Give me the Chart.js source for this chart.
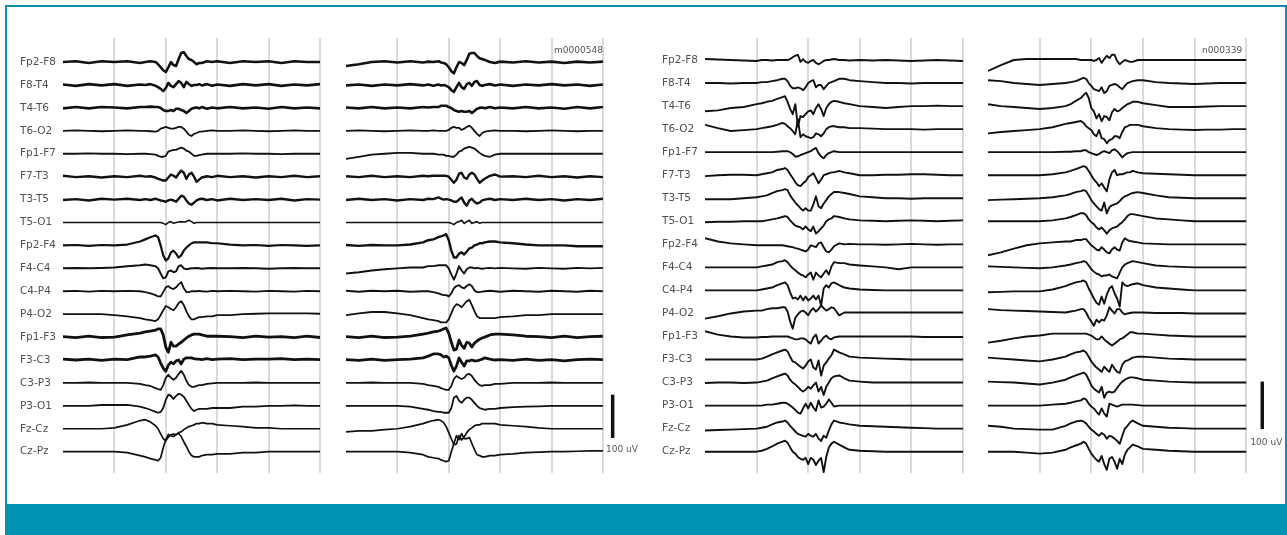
<!DOCTYPE html>
<html>
<head>
<meta charset="utf-8">
<title>EEG montage</title>
<script src="https://cdn.jsdelivr.net/npm/chart.js@4.4.1/dist/chart.umd.min.js"></script>
<style>
  body { margin: 0; width: 1287px; height: 535px; position: relative; overflow: hidden; background: #fff; }
  #frame { position: absolute; left: 5px; top: 5px; width: 1282px; height: 530px; box-sizing: border-box; border: 2px solid #0a91b2; }
  #band { position: absolute; left: 5px; top: 504px; width: 1282px; height: 31px; background: #0092b3; }
  canvas { position: absolute; top: 30px; }
</style>
</head>
<body>
<div id="frame"></div>
<div id="band"></div>
<canvas id="p1" width="307" height="453" style="left:18px"></canvas>
<canvas id="p2" width="298" height="453" style="left:346px"></canvas>
<canvas id="p3" width="308" height="453" style="left:660px"></canvas>
<canvas id="p4" width="297" height="453" style="left:988px"></canvas>
<script>
// bipolar montage, top to bottom
const CHANNELS = ['Fp2-F8', 'F8-T4', 'T4-T6', 'T6-O2', 'Fp1-F7', 'F7-T3', 'T3-T5', 'T5-O1', 'Fp2-F4',
  'F4-C4', 'C4-P4', 'P4-O2', 'Fp1-F3', 'F3-C3', 'C3-P3', 'P3-O1', 'Fz-Cz', 'Cz-Pz'];
const GRID_SECONDS = [1, 2, 3, 4, 5];
const SCALE_UV = 100;

// sample times (s) - denser around the discharge
const TIME_A = [0, 0.25, 0.5, 0.75, 1, 1.25, 1.5, 1.6, 1.7, 1.8, 1.85, 1.9, 1.95, 2, 2.05, 2.1, 2.15, 2.2,
  2.25, 2.3, 2.35, 2.4, 2.45, 2.5, 2.55, 2.6, 2.65, 2.7, 2.8, 2.9, 3, 3.25, 3.5, 3.75, 4, 4.25, 4.5, 4.75, 5];
const TIME_B = [0, 0.25, 0.5, 0.75, 1, 1.1, 1.2, 1.3, 1.4, 1.5, 1.55, 1.6, 1.65, 1.7, 1.75, 1.8, 1.85, 1.9,
  1.95, 2, 2.05, 2.1, 2.15, 2.2, 2.25, 2.3, 2.35, 2.4, 2.45, 2.5, 2.6, 2.7, 2.8, 3, 3.25, 3.5, 3.75, 4, 4.25, 4.5, 4.75, 5];
const TIME_C = [0, 0.25, 0.5, 0.75, 1, 1.25, 1.5, 1.6, 1.7, 1.8, 1.85, 1.9, 1.95, 2, 2.05, 2.1, 2.15, 2.2,
  2.25, 2.3, 2.35, 2.4, 2.45, 2.5, 2.55, 2.6, 2.65, 2.7, 2.75, 2.8, 2.9, 3, 3.25, 3.5, 3.75, 4, 4.25, 4.5, 4.75, 5];

// amplitudes in uV, one row per channel (TIME_A)
const LEFT_A = [
  [0,2,-2,2,0,2,-2, 0,2,0, -5,-12,-19,-23,-12,0,-7,-9, 7,21,23,14,7,5,0,-5, -2,-2,2,0,2, -2,2,0,2,-2,2,0,0],
  [1,-2,2,-1,2,-2,1, 0,2,-2, -5,-9,-14,-7,5,-2,-5,2, 9,5,-5,7,2,-2,0,0, 2,-1,2,-2,1, -2,2,-1,2,-2,1,-1,2],
  [-1,2,-1,2,1,-1,2, 2,3,2, 2,0,-5,-7,-7,-5,-7,-2, -2,-5,-7,-12,-7,-2,0,1, -1,2,-2,1,-1, 2,-1,1,-2,2,-1,1,-1],
  [0,1,0,-1,0,1,0, 0,-1,-2, 0,5,7,9,7,5,5,7, 9,9,5,-2,-9,-12,-7,-5, -2,-2,0,1,0, 0,1,0,-1,0,1,0,0],
  [0,0,1,0,0,-1,0, 0,-1,-2, -5,-7,-7,-5,5,7,9,9, 12,14,12,7,5,0,-5,-5, -3,-2,0,0,0, 0,1,0,0,-1,0,0,0],
  [2,-1,1,-2,1,-1,2, 0,1,-2, -5,-7,-9,-9,-2,5,2,-2, 7,14,9,-5,5,9,0,-12, -7,-2,1,-1,2, -1,1,-2,1,-1,2,-1,1],
  [-1,1,-2,2,0,2,-1, 1,-1,2, 0,-2,-3,-5,-2,0,-2,-5, 2,9,7,-2,-9,-12,-7,-2, 1,2,-1,1,-2, 2,-1,1,-1,2,-2,1,0],
  [0,0,0,0,0,0,0, 0,0,0, 0,0,-2,-5,0,2,-2,0, 1,2,1,2,5,2,-2,0, 0,0,0,0,0, 0,0,0,0,0,0,0,0],
  [0,1,-1,1,0,2,9, 14,19,23, 19,0,-23,-35,-30,-16,-12,-19, -28,-23,-12,-5,0,5,7,7, 7,7,7,5,5, 2,0,1,-1,1,0,-1,0],
  [0,1,0,1,2,5,7, 9,7,5, 0,-12,-23,-21,-7,-5,-9,-7, 5,7,0,-2,-1,0,0,1, 0,-1,0,1,0, 0,1,0,-1,0,1,0,0],
  [0,1,-1,1,0,1,0, -2,-5,-9, -12,-12,-2,9,12,7,5,9, 16,21,7,-2,-2,0,0,0, 1,0,-1,1,0, 1,0,-1,1,0,-1,1,0],
  [0,0,0,0,-2,-5,-9, -12,-14,-16, -12,-2,9,19,16,12,9,16, 26,30,21,7,-5,-12,-12,-9, -7,-7,-5,-5,-2, -2,0,1,2,2,2,2,1],
  [1,-1,2,-1,0,5,9, 12,14,16, 19,19,5,-23,-35,-12,-21,-21, -16,-12,-7,-2,2,5,7,7, 7,5,2,2,2, 1,-1,2,0,1,-1,2,-1],
  [2,0,2,-1,2,1,7, 7,9,12, 7,-7,-19,-26,-12,-5,-9,-2, 0,-9,2,5,5,5,3,2, 2,1,3,1,2, 3,1,2,2,3,1,2,1],
  [0,0,1,0,0,0,-2, -5,-7,-12, -14,-16,-5,12,19,12,7,12, 21,28,19,5,-5,-9,-9,-7, -5,-5,-2,-1,0, 0,0,1,0,0,0,0,0],
  [0,0,0,2,2,2,-2, -5,-9,-14, -16,-14,-5,14,26,23,16,23, 28,26,21,12,2,-7,-12,-9, -7,-7,-7,-5,-5, -5,-2,-2,0,0,1,0,0],
  [0,0,0,0,2,9,19, 21,16,7, 0,-12,-23,-28,-19,-14,-12,-14, -9,-7,-2,2,5,7,9,12, 12,14,12,12,9, 7,5,2,2,0,0,0,0],
  [0,0,0,0,0,-2,-9, -12,-16,-19, -21,-14,9,28,40,37,35,40, 42,35,23,12,0,-9,-12,-12, -12,-9,-7,-7,-5, -5,-2,-2,0,0,0,0,0]
];

// record m0000548 (TIME_A)
const LEFT_B = [
  [-9,-5,0,2,-1,2,-1, 1,0,2, -1,-2,-5,-12,-21,-26,-12,0, -2,-7,5,19,21,21,14,9, 7,5,0,-2,1, -1,2,-1,1,-2,1,-1,1],
  [-1,1,-2,1,-1,2,-1, 1,-2,1, -1,0,-2,-5,-12,-16,-5,5, -5,-9,2,5,-2,7,9,0, -2,0,2,-1,1, -2,1,-1,2,-1,1,-2,1],
  [1,-1,2,-1,1,-1,2, 1,2,2, 5,5,5,2,0,-5,-7,-9, -7,-9,-9,-7,-12,-7,-2,0, 1,-1,2,-1,1, -1,2,-1,1,-2,2,-1,2],
  [0,1,0,-1,0,1,0, 0,1,0, 0,0,0,2,7,9,7,7, 2,5,9,12,7,0,-7,-12, -5,-2,0,1,0, 0,-1,0,1,0,-1,0,0],
  [-12,-7,-2,0,2,2,0, 0,0,-2, -2,-2,-5,-5,-7,-7,-2,5, 7,12,14,16,14,12,7,2, -2,-5,-7,-2,0, 0,0,0,0,0,0,0,0],
  [1,-1,2,-1,1,-1,2, 1,2,2, 2,2,2,0,-7,-14,-7,7, 9,-2,-5,5,9,5,-5,-14, -9,-5,2,5,0, 1,-1,2,-1,1,-2,1,-1],
  [-1,2,-1,1,-2,1,-1, 2,1,5, 2,0,1,0,-2,-5,-5,0, 5,-7,-14,-2,2,-5,-9,-7, -2,0,2,-1,1, -1,2,-1,1,-2,1,-1,2],
  [0,0,0,0,0,0,0, 0,0,0, 0,0,0,0,-2,-5,0,2, 5,-2,2,5,-2,0,2,-2, 0,0,0,0,0, 0,0,0,0,0,0,0,0],
  [1,-1,1,0,0,2,7, 12,14,19, 21,23,26,12,-12,-28,-28,-19, -16,-21,-14,-7,-5,0,2,5, 5,7,9,9,7, 5,2,0,0,0,-2,-2,-2],
  [-12,-9,-5,-2,0,2,2, 5,5,7, 7,7,7,0,-14,-26,-12,5, -5,-12,-2,2,2,0,1,0, -1,0,1,0,1, 0,-1,1,0,-1,1,0,1],
  [1,-1,1,0,1,-1,0, 0,-2,-5, -7,-9,-9,-12,-5,7,12,14, 9,7,12,16,12,2,-2,-2, -1,0,1,0,-1, 1,0,-1,1,0,-1,1,0],
  [-2,2,5,5,2,-2,-9, -12,-14,-16, -19,-19,-19,-12,2,16,23,21, 16,23,30,33,21,7,-5,-9, -9,-9,-9,-9,-7, -5,-2,-2,0,0,0,0,0],
  [1,-1,2,-1,0,2,7, 9,12,14, 16,19,21,9,-12,-30,-28,-7, -19,-26,-12,-14,-23,-14,-9,-5, -2,0,5,7,7, 5,2,1,-1,2,-1,1,2],
  [1,-1,2,-1,1,2,5, 9,14,14, 12,7,9,5,-12,-26,-14,5, -5,-14,-2,-2,0,-2,-2,0, 2,5,2,0,1, -1,2,-1,1,-2,1,2,1],
  [0,0,1,0,0,0,-2, -5,-7,-9, -12,-14,-16,-16,-7,9,16,12, 9,12,19,21,16,7,0,-5, -7,-5,-5,-2,-2, 0,0,0,1,0,0,0,0],
  [0,0,0,0,0,-2,-7, -9,-12,-14, -14,-16,-16,-16,-5,19,23,12, 7,14,19,19,14,7,0,-5, -7,-9,-7,-7,-5, -3,-2,-1,0,0,0,0,0],
  [-7,-5,-5,-2,0,5,12, 16,19,21, 19,14,5,-9,-23,-37,-35,-16, -26,-19,-9,-2,2,7,9,9, 12,12,12,12,9, 7,5,2,0,0,0,0,0],
  [0,0,0,0,0,-2,-7, -12,-14,-16, -19,-21,-23,-21,0,19,37,28, 42,30,30,33,19,5,-7,-9, -12,-12,-9,-9,-7, -5,-2,-1,0,0,1,2,2]
];

// TIME_B
const RIGHT_A = [
  [2,1,0,-1,-2, 0,0,-1,0,0, 0,0,2,6,9,11,-4,2, -4,-6,-2,0,-6,-9,-6,-2, 0,0,1,2,0,0,-1,0, -1,0,-1,-2,-1,0,-1,-2],
  [0,0,-1,0,0, 2,2,4,6,9, 9,4,-6,-11,-11,-9,-11,-15, -9,0,4,6,-9,-4,-4,-13, -6,0,2,4,9,9,6,4, 2,0,0,-1,0,0,0,0],
  [-11,-9,-4,-2,4, 6,9,11,15,19, 21,9,-6,-17,4,-43,-21,-23, -17,-11,-9,-17,-4,4,-6,-21, -4,4,9,11,9,6,4,0, -2,-4,-2,0,0,1,0,0],
  [9,2,-4,-2,0, 2,4,6,9,13, 11,6,2,-4,-11,21,-17,-11, -15,-17,-19,-17,-9,-11,-15,-9, 0,4,6,6,4,4,2,2, 1,0,0,0,-1,0,0,0],
  [0,0,0,0,0, 0,0,0,1,2, 2,2,0,-4,-9,-9,-6,-4, -2,0,2,6,9,-2,-9,-13, -6,-2,0,2,0,0,0,0, 0,0,0,0,0,0,0,0],
  [-2,0,1,1,0, 2,4,6,11,13, 15,11,2,-6,-15,-21,-23,-17, -13,-4,0,4,-6,-17,-9,0, 2,4,6,6,9,6,4,0, 0,1,1,2,2,1,0,0],
  [-2,-2,-2,0,2, 4,6,11,15,17, 19,17,6,-2,-9,-15,-21,-26, -21,-26,-26,-13,4,-17,-21,-11, -4,4,9,13,13,11,9,4, 2,0,0,-1,0,0,0,0],
  [-2,-1,-1,0,0, 0,2,4,6,9, 11,9,2,-4,-9,-11,-13,-17, -11,-17,-21,-11,-26,-21,-15,-9, 0,4,6,11,9,6,4,2, 1,0,1,2,1,0,1,2],
  [13,6,2,0,-2, -2,-2,-2,-2,-2, -3,-4,-5,-6,-8,-9,-11,-13, -15,-11,-2,-4,-6,2,4,-6, -15,-17,-11,-4,2,0,1,0, 0,-1,0,1,0,-1,0,0],
  [0,0,0,0,0, 2,4,6,11,13, 15,11,4,-2,-6,-11,-15,-17, -21,-15,-11,-26,-11,-17,-21,-13, -6,-15,2,11,9,9,6,4, 2,0,-4,0,0,0,0,0],
  [0,0,0,0,0, 2,4,6,11,15, 17,11,-4,-17,-15,-19,-11,-21, -13,-21,-17,-11,-19,-11,-32,4, 11,6,15,17,11,6,4,2, 1,0,0,0,0,0,0,0],
  [-11,-6,0,4,6, 6,9,11,11,13, 13,4,-17,-32,-9,-2,4,6, 2,-4,6,11,4,9,17,11, 6,9,13,11,-4,2,2,2, 2,2,2,2,2,2,2,2],
  [11,4,0,-2,-2, -1,-1,0,0,0, 0,0,-2,-4,-6,-6,-4,-4, -6,-11,-15,-2,4,-15,-9,-2, 2,-4,-6,-2,0,0,0,0, 0,0,0,0,-1,-1,-1,-1],
  [0,0,0,0,0, 2,6,11,15,19, 21,17,6,-4,-6,-11,-15,-19, -13,-4,0,-17,-21,-2,-34,-13, -6,2,9,21,15,11,6,4, 3,2,1,0,0,0,0,0],
  [-1,0,0,-1,0, 2,4,9,13,17, 19,15,6,0,-4,-9,-15,-19, -15,-9,-13,-6,0,-19,-9,-26, -9,0,9,13,15,9,4,2, 0,0,0,0,0,0,0,0],
  [0,0,0,0,0, 0,2,2,4,6, 6,4,0,-4,-9,-15,-17,-6, 4,-6,6,-4,-11,11,-4,-2, 4,13,6,-2,0,0,0,0, 0,0,0,0,0,0,0,0],
  [-4,-3,-2,-1,0, 2,4,9,13,15, 17,13,6,0,-6,-11,-13,-15, -17,-11,-15,-17,-11,-21,-26,-15, -19,-4,9,17,13,11,9,6, 5,4,3,2,1,0,0,0],
  [0,0,0,0,0, 2,6,11,17,21, 23,19,9,0,-4,-11,-15,-17, -13,-26,-13,-17,-28,-19,-13,-43, -11,9,17,21,15,9,4,2, 1,0,0,0,0,0,0,0]
];

// record n000339 (TIME_C)
const RIGHT_B = [
  [-23,-11,0,2,2,2,2, 2,2,0, 0,0,0,0,-2,0,4,-6, 2,9,4,11,11,-2,-9,-4, 0,-2,-4,-4,0,0, 0,0,0,0,0,0,0,0],
  [6,4,0,-2,-4,-2,0, 2,4,9, 11,9,0,-6,-13,-15,-17,-9, -21,-17,-6,-4,-2,-4,-9,-13, -6,0,2,4,6,6, 2,0,-1,-2,-1,0,0,0],
  [4,0,-2,-4,-6,-4,0, 4,11,17, 23,28,17,-4,-11,-26,-17,-32, -21,-23,-30,-13,-6,-11,-9,-4, 0,4,6,9,9,6, 2,-2,-2,-2,-1,0,0,0],
  [-9,-6,-4,-2,0,4,11, 13,15,17, 13,6,2,-2,-11,-15,-2,-19, -21,-30,-23,-21,-15,-15,-19,-6, 4,6,9,9,9,6, 2,0,-1,-2,-1,-1,0,0],
  [0,0,0,0,0,0,1, 1,2,2, 4,4,0,-2,-4,-6,-4,0, 2,0,-2,4,6,2,-4,-11, -6,-2,-1,0,0,0, 0,0,0,0,0,0,0,0],
  [0,0,0,0,0,2,6, 9,13,17, 19,17,9,0,-9,-15,-23,-17, -26,-34,-9,6,11,0,2,2, 4,6,6,9,6,4, 3,2,1,0,0,0,0,0],
  [-4,-3,-2,-1,0,2,6, 9,13,15, 17,15,6,-4,-11,-17,-23,-26, -9,-32,-19,-15,-13,-11,-6,0, 4,6,9,11,13,11, 6,2,1,0,0,0,0,0],
  [0,0,0,0,0,2,6, 9,13,17, 17,13,4,-2,-6,-13,-17,-13, -19,-26,-19,-15,-13,-11,-6,-2, 4,11,15,15,13,11, 6,4,2,0,0,0,0,0],
  [-23,-17,-9,-2,2,4,6, 6,9,9, 11,11,4,-2,-6,-11,-13,-6, -11,-17,-19,-11,-6,-11,-13,4, 13,9,7,6,4,2, 1,0,0,0,0,0,0,0],
  [2,1,0,-1,-2,0,4, 6,9,11, 13,11,4,-4,-9,-13,-15,-19, -17,-17,-15,-19,-21,-23,-11,0, 6,9,11,13,11,9, 4,2,1,0,0,0,0,0],
  [-4,-3,-2,-2,-2,2,9, 13,17,19, 21,17,4,-6,-17,-26,-30,-13, -28,-9,4,9,-6,-17,-34,17, 11,9,11,13,15,11, 6,4,2,0,0,0,0,0],
  [9,7,6,5,4,3,2, 4,6,9, 9,2,-9,-17,-26,-13,-19,-13, -15,-4,13,6,0,9,9,2, -2,0,1,2,2,2, 1,1,1,0,0,0,0,0],
  [-13,-9,-4,0,2,6,6, 6,6,6, 6,6,4,2,-2,-6,-6,0, -6,-11,-15,-19,-15,-11,-6,-4, 0,4,9,9,6,6, 4,2,1,0,0,0,0,0],
  [4,2,0,-2,-4,0,6, 11,15,17, 19,15,6,-4,-11,-17,-21,-26, -15,-21,-26,-11,-19,-26,-28,-11, -4,-2,1,4,6,6, 4,2,1,0,0,0,0,0],
  [2,1,0,-2,-4,0,6, 11,15,19, 21,17,6,-6,-13,-17,-21,-9, -32,-21,-19,-21,-19,-11,-4,2, 6,9,11,11,9,6, 4,2,1,0,0,0,0,0],
  [0,0,0,0,0,2,4, 6,9,11, 15,13,4,-2,-6,-13,-19,-6, -17,-23,4,2,0,-2,0,2, 2,2,2,2,1,0, 0,0,0,0,0,0,0,0],
  [6,4,0,-1,-2,-2,6, 11,15,17, 15,11,4,-2,-6,-11,-15,-9, -13,-21,-15,-17,-21,-26,-32,-15, 0,6,13,17,11,6, 4,2,1,0,0,0,0,0],
  [0,0,0,-2,-4,-2,4, 9,13,17, 21,17,6,-4,-11,-17,-21,-9, -26,-38,-15,-11,-21,-36,-15,-26, -6,4,9,15,11,6, 4,2,1,0,0,0,0,0]
];

// trace thickness (noisier channels look heavier)
const WIDTH_A = [2.6,2.6,2.6,1.8,1.8,2.4,2.4,1.6,2.2,2,1.8,1.8,2.8,2.8,1.8,1.8,1.7,1.7];
const WIDTH_B = [2.6,2.6,2.6,1.8,1.8,2.4,2.4,1.6,2.4,1.9,1.9,1.8,2.8,2.8,1.8,1.8,1.7,1.7];
const WIDTH_C = CHANNELS.map(() => 1.9);

const panels = [
  { id: 'p1', time: TIME_A, rows: LEFT_A, widths: WIDTH_A, uvPerRow: 53, above: 1.05, below: 0.93,
    showLabels: true, xMax: 5, pad: { left: 2, right: 5 }, notes: [] },
  { id: 'p2', time: TIME_A, rows: LEFT_B, widths: WIDTH_B, uvPerRow: 53, above: 1.05, below: 0.93,
    showLabels: false, xMax: 5.8, pad: { left: 0, right: 0 },
    bar: { t: 5.19, row: 16.4 },
    notes: [{ text: 'm0000548', t: 5.0, row: -0.48, align: 'right' }, { text: '100 uV', t: 5.06, row: 16.93, align: 'left' }] },
  { id: 'p3', time: TIME_B, rows: RIGHT_A, widths: WIDTH_C, uvPerRow: 48.5, above: 0.955, below: 0.925,
    showLabels: true, xMax: 5, pad: { left: 2, right: 5 }, notes: [] },
  { id: 'p4', time: TIME_C, rows: RIGHT_B, widths: WIDTH_C, uvPerRow: 48.5, above: 0.955, below: 0.925,
    showLabels: false, xMax: 5.75, pad: { left: 0, right: 0 },
    bar: { t: 5.31, row: 16.02 },
    notes: [{ text: 'n000339', t: 4.92, row: -0.39, align: 'right' }, { text: '100 uV', t: 5.08, row: 16.62, align: 'left' }] }
];

const notesPlugin = {
  id: 'notes',
  afterDatasetsDraw(chart, args, opts) {
    const ctx = chart.ctx;
    const x = chart.scales.x, y = chart.scales.y;
    (opts.items || []).forEach(n => {
      ctx.save();
      ctx.font = '9px "DejaVu Sans", sans-serif';
      ctx.fillStyle = '#555';
      ctx.textAlign = n.align;
      ctx.textBaseline = 'middle';
      ctx.fillText(n.text, x.getPixelForValue(n.t), y.getPixelForValue(-n.row * opts.uvPerRow));
      ctx.restore();
    });
  }
};

panels.forEach(p => {
  const S = p.uvPerRow;
  const datasets = p.rows.map((vals, r) => ({
    label: CHANNELS[r],
    data: vals.map((v, i) => ({ x: p.time[i], y: v - r * S })),
    borderColor: '#111',
    borderWidth: p.widths[r],
    pointRadius: 0,
    tension: 0,
    borderJoinStyle: 'round'
  }));
  if (p.bar) {
    const base = -p.bar.row * S;
    datasets.push({
      label: 'scale',
      data: [{ x: p.bar.t, y: base }, { x: p.bar.t, y: base + SCALE_UV }],
      borderColor: '#111', borderWidth: 3.5, pointRadius: 0
    });
  }

  new Chart(document.getElementById(p.id), {
    type: 'line',
    data: { datasets: datasets },
    plugins: [notesPlugin],
    options: {
      responsive: false,
      animation: false,
      devicePixelRatio: 1,
      layout: { padding: { top: 8, bottom: 10, left: p.pad.left, right: p.pad.right } },
      plugins: {
        legend: { display: false },
        tooltip: { enabled: false },
        notes: { items: p.notes, uvPerRow: S }
      },
      scales: {
        x: {
          type: 'linear', min: 0, max: p.xMax,
          afterBuildTicks: s => { s.ticks = GRID_SECONDS.map(v => ({ value: v })); },
          afterFit: s => { s.height = 0; },
          ticks: { display: false },
          border: { display: false },
          grid: { color: '#dadada', lineWidth: 2, drawTicks: false }
        },
        y: {
          type: 'linear', display: p.showLabels,
          min: -(17 + p.below) * S, max: p.above * S,
          afterBuildTicks: s => { s.ticks = CHANNELS.map((c, i) => ({ value: -i * S })); },
          afterFit: s => { s.width = p.showLabels ? 43 : 0; },
          ticks: {
            autoSkip: false, crossAlign: 'far', padding: 0, color: '#505050',
            font: { family: '"DejaVu Sans", sans-serif', size: 10.5 },
            callback: v => CHANNELS[Math.round(-v / S)]
          },
          border: { display: false },
          grid: { display: false }
        }
      }
    }
  });
});
</script>
</body>
</html>
